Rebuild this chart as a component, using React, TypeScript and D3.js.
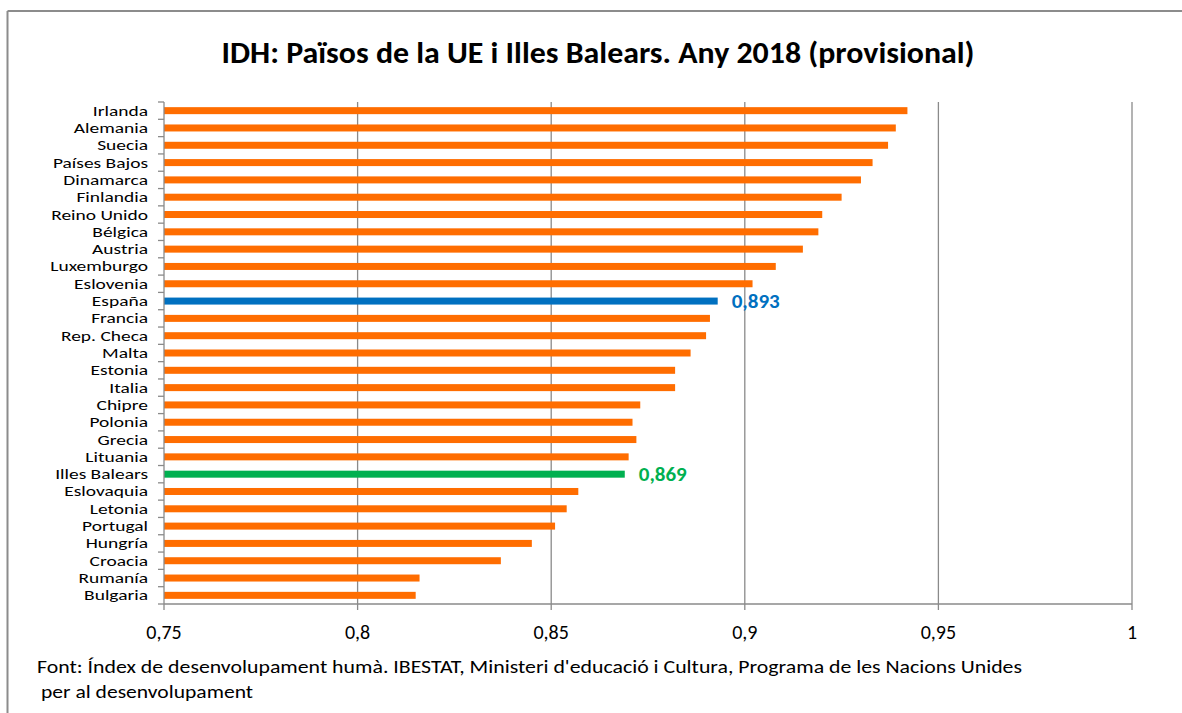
import React from "react";
import * as d3 from "d3";

const countries = [
  "Irlanda", "Alemania", "Suecia", "Países Bajos", "Dinamarca", "Finlandia",
  "Reino Unido", "Bélgica", "Austria", "Luxemburgo", "Eslovenia", "España",
  "Francia", "Rep. Checa", "Malta", "Estonia", "Italia", "Chipre", "Polonia",
  "Grecia", "Lituania", "Illes Balears", "Eslovaquia", "Letonia", "Portugal",
  "Hungría", "Croacia", "Rumanía", "Bulgaria",
];
const idh = [
  0.942, 0.939, 0.937, 0.933, 0.930, 0.925,
  0.920, 0.919, 0.915, 0.908, 0.902, 0.893,
  0.891, 0.890, 0.886, 0.882, 0.882, 0.873, 0.871,
  0.872, 0.870, 0.869, 0.857, 0.854, 0.851,
  0.845, 0.837, 0.816, 0.815,
];
const xTicks = [0.75, 0.8, 0.85, 0.9, 0.95, 1];
const highlighted = ["España", "Illes Balears"];
const title = "IDH: Països de la UE i Illes Balears. Any 2018 (provisional)";
const sourceLines = [
  "Font: Índex de desenvolupament humà. IBESTAT, Ministeri d'educació i Cultura, Programa de les Nacions Unides",
  "per al desenvolupament",
];

const FONT = "Carlito, Calibri, 'Open Sans', sans-serif";
const ORANGE = "#ff6d00";
const colorFor = (c: string) =>
  c === "España" ? "#0070c0" : c === "Illes Balears" ? "#00b050" : ORANGE;
const fmt = (v: number) => String(v).replace(".", ",");

export default function App() {
  const W = 1182, H = 713;
  const left = 164, right = 1132, top = 102, bottom = 604;
  const x = d3.scaleLinear().domain([0.75, 1]).range([left, right]);
  const y = d3.scaleBand<string>().domain(countries).range([top, bottom]);
  const bh = 7;
  const grid = "#8a8a8a";

  return (
    <svg width={W} height={H} style={{ position: "absolute", left: 0, top: 0, background: "#fff" }} fontFamily={FONT}>
      {/* frame */}
      <line x1={7.5} y1={11} x2={W} y2={11} stroke="#8c8c8c" strokeWidth={2} />
      <line x1={7.5} y1={11} x2={7.5} y2={H} stroke="#8c8c8c" strokeWidth={2} />

      <text x={598} y={63} textAnchor="middle" fontSize={31} fontWeight="bold" fill="#000"
        textLength={753} lengthAdjust="spacingAndGlyphs">{title}</text>

      {/* vertical gridlines */}
      {xTicks.slice(1).map((t) => (
        <line key={"g" + t} x1={x(t)} x2={x(t)} y1={top} y2={bottom} stroke={grid} strokeWidth={1.3} />
      ))}

      {/* bars */}
      {countries.map((c, i) => (
        <rect key={c} x={x(0.75)} y={(y(c) as number) + y.bandwidth() / 2 - bh / 2}
          width={x(idh[i]) - x(0.75)} height={bh} fill={colorFor(c)} />
      ))}

      {/* data labels for highlighted */}
      {countries.map((c, i) => highlighted.includes(c) ? (
        <text key={"l" + c} x={x(idh[i]) + 14} y={(y(c) as number) + y.bandwidth() / 2 + 7}
          fontSize={21} fontWeight="bold" fill={colorFor(c)}>{fmt(idh[i])}</text>
      ) : null)}

      {/* y axis */}
      <line x1={left} x2={left} y1={top} y2={bottom} stroke={grid} strokeWidth={1.3} />
      {d3.range(countries.length + 1).map((k) => {
        const yy = top + k * y.step();
        return <line key={"yt" + k} x1={left - 6} x2={left} y1={yy} y2={yy} stroke={grid} strokeWidth={1.3} />;
      })}
      {countries.map((c) => (
        <text key={"yl" + c}
          transform={`translate(148,${(y(c) as number) + y.bandwidth() / 2 + 5}) scale(1.37,1)`}
          textAnchor="end" fontSize={14.2} fill="#000">{c}</text>
      ))}

      {/* x axis */}
      <line x1={left} x2={right} y1={bottom} y2={bottom} stroke={grid} strokeWidth={1.3} />
      {xTicks.map((t) => (
        <g key={"xt" + t}>
          <line x1={x(t)} x2={x(t)} y1={bottom} y2={bottom + 6} stroke={grid} strokeWidth={1.3} />
          <text x={x(t)} y={639} textAnchor="middle" fontSize={20} fill="#000">{fmt(t)}</text>
        </g>
      ))}

      {/* source */}
      <text x={37} y={673} fontSize={19} fill="#000" textLength={985} lengthAdjust="spacingAndGlyphs">{sourceLines[0]}</text>
      <text x={41} y={698} fontSize={19} fill="#000" textLength={212} lengthAdjust="spacingAndGlyphs">{sourceLines[1]}</text>
    </svg>
  );
}
